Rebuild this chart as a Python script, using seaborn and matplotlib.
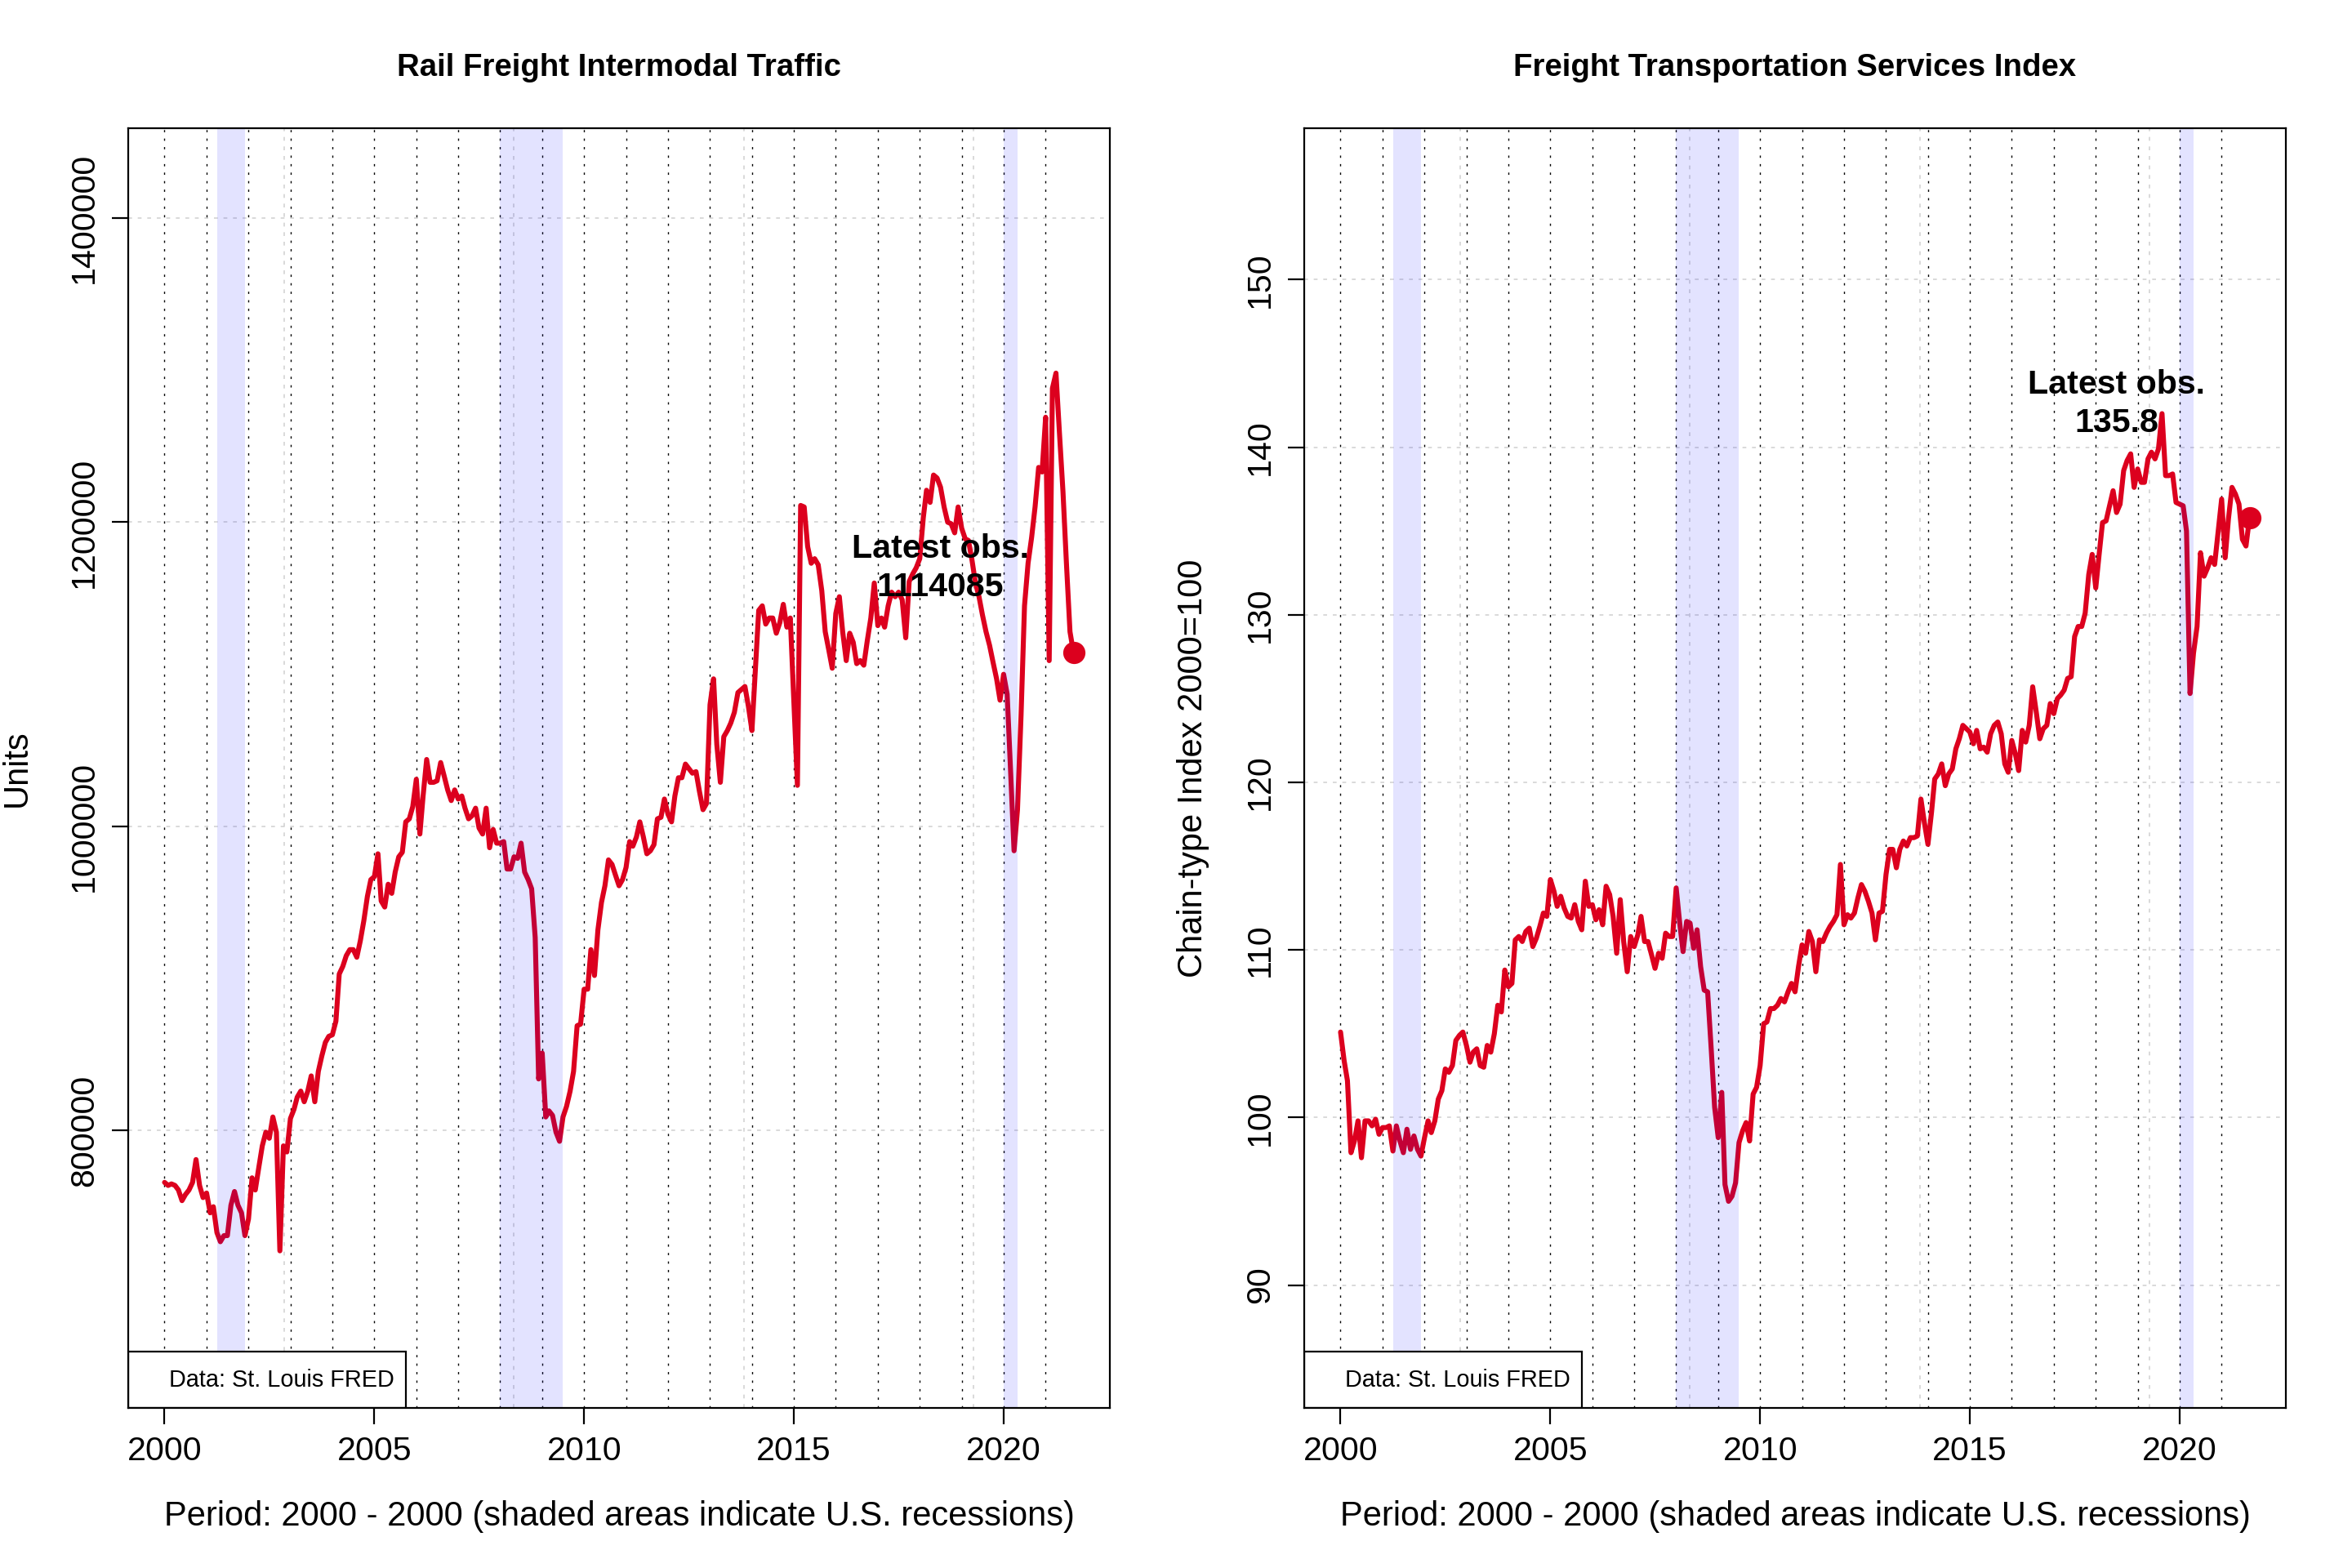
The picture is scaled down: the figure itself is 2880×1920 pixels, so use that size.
import numpy as np
import pandas as pd
import matplotlib
matplotlib.use('Agg')
import matplotlib.pyplot as plt
import matplotlib.dates as mdates
from matplotlib.patches import Rectangle
import seaborn as sns

# monthly observations Jan 2000 - Sep 2021
months = pd.date_range('2000-01-01', '2021-09-01', freq='MS')

# Rail Freight Intermodal Traffic, thousands of units (one row per year)
rail_k = [
    766, 764, 765, 764, 761, 754, 758, 761, 766, 781, 764, 756,
    759, 746, 750, 733, 727, 731, 731, 751, 760, 751, 746, 731,
    742, 769, 761, 776, 790, 799, 795, 809, 799, 721, 790, 786,
    808, 814, 822, 826, 819, 826, 836, 819, 839, 849, 858, 862,
    863, 872, 903, 908, 915, 919, 919, 914, 925, 938, 954, 965,
    967, 982, 951, 947, 962, 956, 970, 980, 983, 1003, 1005, 1013,
    1031, 995, 1020, 1044, 1029, 1029, 1030, 1042, 1033, 1024, 1017, 1024,
    1018, 1020, 1012, 1005, 1007, 1012, 999, 995, 1012, 986, 998, 989,
    989, 990, 972, 972, 980, 979, 989, 970, 965, 959, 927, 834,
    851, 809, 813, 810, 799, 793, 809, 816, 826, 839, 869, 870,
    893, 893, 919, 902, 932, 950, 961, 978, 975, 968, 961, 965,
    973, 990, 987, 993, 1003, 993, 982, 984, 988, 1005, 1006, 1018,
    1008, 1003, 1020, 1032, 1032, 1041, 1038, 1035, 1036, 1023, 1011, 1015,
    1080, 1097, 1054, 1029, 1059, 1063, 1068, 1075, 1088, 1090, 1092, 1079,
    1063, 1104, 1142, 1145, 1133, 1137, 1137, 1127, 1134, 1146, 1131, 1137,
    1082, 1027, 1211, 1210, 1184, 1173, 1176, 1172, 1155, 1128, 1116, 1104,
    1140, 1151, 1128, 1109, 1127, 1121, 1107, 1109, 1106, 1122, 1137, 1160,
    1132, 1137, 1131, 1145, 1154, 1151, 1154, 1149, 1124, 1161, 1166, 1170,
    1176, 1203, 1221, 1213, 1231, 1229, 1223, 1210, 1200, 1199, 1193, 1210,
    1196, 1189, 1188, 1175, 1160, 1151, 1139, 1128, 1119, 1108, 1097, 1083,
    1100, 1087, 1038, 984, 1011, 1073, 1145, 1173, 1190, 1210, 1236, 1233,
    1269, 1109, 1288, 1298, 1259, 1220, 1173, 1128, 1114.085,
]

# Freight Transportation Services Index, chain-type 2000=100
fsi_index = [
    105.1, 103.4, 102.2, 97.9, 98.6, 99.8, 97.6, 99.8, 99.8, 99.5, 99.9, 99.0,
    99.4, 99.4, 99.5, 98.0, 99.5, 98.6, 97.9, 99.3, 98.1, 98.9, 98.1, 97.7,
    98.8, 99.8, 99.1, 99.8, 101.1, 101.6, 102.9, 102.7, 103.1, 104.6, 104.9, 105.1,
    104.3, 103.3, 103.9, 104.1, 103.1, 103.0, 104.3, 103.9, 105.0, 106.7, 106.3, 108.8,
    107.8, 108.0, 110.6, 110.8, 110.5, 111.1, 111.3, 110.2, 110.7, 111.4, 112.2, 112.0,
    114.2, 113.5, 112.6, 113.2, 112.5, 112.0, 111.9, 112.7, 111.7, 111.2, 114.1, 112.6,
    112.7, 111.8, 112.4, 111.5, 113.8, 113.3, 112.0, 109.8, 113.0, 110.5, 108.7, 110.8,
    110.2, 110.9, 112.0, 110.5, 110.5, 109.7, 108.9, 109.8, 109.5, 111.0, 110.8, 110.8,
    113.7, 111.6, 109.9, 111.7, 111.6, 110.1, 111.2, 109.0, 107.6, 107.5, 104.1, 100.6,
    98.8, 101.5, 96.0, 95.0, 95.3, 96.1, 98.5, 99.2, 99.7, 98.6, 101.4, 101.8,
    103.1, 105.6, 105.7, 106.5, 106.5, 106.7, 107.1, 106.9, 107.5, 108.0, 107.5, 109.0,
    110.3, 109.8, 111.1, 110.5, 108.7, 110.6, 110.5, 111.0, 111.4, 111.7, 112.1, 115.1,
    111.5, 112.1, 111.9, 112.2, 113.1, 113.9, 113.5, 112.9, 112.2, 110.6, 112.2, 112.3,
    114.5, 116.0, 116.0, 114.9, 116.0, 116.5, 116.2, 116.7, 116.7, 116.8, 119.0, 117.6,
    116.3, 118.2, 120.2, 120.5, 121.1, 119.8, 120.5, 120.8, 122.0, 122.6, 123.4, 123.2,
    123.0, 122.3, 123.1, 122.0, 122.1, 121.8, 122.9, 123.4, 123.6, 122.9, 121.1, 120.6,
    122.5, 121.7, 120.7, 123.1, 122.4, 123.4, 125.7, 124.2, 122.6, 123.2, 123.4, 124.7,
    124.1, 125.0, 125.2, 125.5, 126.2, 126.3, 128.7, 129.3, 129.3, 130.1, 132.4, 133.6,
    131.6, 133.7, 135.5, 135.6, 136.5, 137.4, 136.1, 136.6, 138.6, 139.2, 139.6, 137.6,
    138.7, 137.9, 137.9, 139.3, 139.7, 139.3, 139.9, 142.0, 138.3, 138.3, 138.4, 136.7,
    136.6, 136.5, 135.0, 125.3, 127.7, 129.3, 133.7, 132.3, 132.8, 133.4, 133.0, 134.9,
    136.9, 133.4, 135.7, 137.6, 137.2, 136.6, 134.5, 134.1, 135.8,
]

# US recessions (shaded)
rec_start = ['2001-04-01', '2008-01-01', '2020-01-01']
rec_end = ['2001-12-01', '2009-07-01', '2020-05-01']

xtick_years = [2000, 2005, 2010, 2015, 2020]
rail_yticks = [800000, 1000000, 1200000, 1400000]
fsi_yticks = [90, 100, 110, 120, 130, 140, 150]

df = pd.DataFrame({
    'date': months,
    'rail': np.array(rail_k) * 1000,
    'fsi': fsi_index,
})

sns.set_style('white')
plt.rcParams['font.family'] = ['Liberation Sans', 'DejaVu Sans']
plt.rcParams['text.color'] = 'black'
plt.rcParams['axes.labelcolor'] = 'black'
plt.rcParams['xtick.color'] = 'black'
plt.rcParams['ytick.color'] = 'black'

RED = '#dc001e'

fig = plt.figure(figsize=(14.4, 9.6), dpi=200)
ax1 = fig.add_axes([0.0545, 0.1021, 0.4174, 0.8161])
ax2 = fig.add_axes([0.5545, 0.1021, 0.4174, 0.8161])

paineis = [
    (ax1, 'rail', 'Rail Freight Intermodal Traffic', 'Units', rail_yticks,
     lambda v: f'{int(round(v))}'),
    (ax2, 'fsi', 'Freight Transportation Services Index', 'Chain-type Index 2000=100',
     fsi_yticks, lambda v: f'{v:.1f}'),
]

for ax, col, titulo, ylab, yticks, fmt in paineis:
    serie = df[col]

    # limites no estilo R: min*0.9 / max*1.1 com 4% de folga
    lo, hi = serie.min() * 0.9, serie.max() * 1.1
    ax.set_ylim(lo - 0.04 * (hi - lo), hi + 0.04 * (hi - lo))
    d0, d1 = df['date'].iloc[0], df['date'].iloc[-1]
    span = d1 - d0
    ax.set_xlim(d0 - 0.04 * span, d1 + 0.04 * span)

    # grade cinza (eixo de datas em dias) e linhas pontilhadas de cada ano
    for d in [12000, 14000, 16000, 18000]:
        ax.axvline(mdates.num2date(d), color='lightgray', lw=0.6,
                   linestyle=(0, (2.8, 4.2)), zorder=1)
    for yv in yticks:
        ax.axhline(yv, color='lightgray', lw=0.6, linestyle=(0, (2.8, 4.2)), zorder=1)
    for ano in range(2000, 2022):
        ax.axvline(pd.Timestamp(f'{ano}-01-01'), color='black', lw=0.5,
                   linestyle=(0, (2, 5.5)), zorder=1)

    sns.lineplot(data=df, x='date', y=col, ax=ax, color=RED, linewidth=2.2, zorder=3)

    for s, e in zip(rec_start, rec_end):
        ax.axvspan(pd.Timestamp(s), pd.Timestamp(e), color='blue', alpha=0.11,
                   lw=0, zorder=4)

    ultimo = serie.iloc[-1]
    ax.plot([d1], [ultimo], 'o', color=RED, markersize=8.8, zorder=5)
    ax.text(d1 - pd.Timedelta(days=1160), ultimo * 1.05,
            'Latest obs.\n' + fmt(ultimo), ha='center', va='center',
            fontsize=14.8, fontweight='bold', linespacing=1.32, zorder=6)

    # caixa da fonte dos dados
    ax.add_patch(Rectangle((0, 0), 0.283, 0.044, transform=ax.transAxes,
                           facecolor='white', edgecolor='black', lw=0.8, zorder=7))
    ax.text(0.2712, 0.0217, 'Data: St. Louis FRED', transform=ax.transAxes,
            ha='right', va='center', fontsize=10.4, zorder=8)

    ax.set_xticks([pd.Timestamp(f'{a}-01-01') for a in xtick_years])
    ax.set_xticklabels([str(a) for a in xtick_years])
    ax.set_yticks(yticks)
    ax.set_yticklabels([str(v) for v in yticks], rotation=90, va='center')
    ax.tick_params(axis='both', which='major', direction='out', length=7.2,
                   width=0.8, color='black', labelsize=14.8, labelcolor='black',
                   bottom=True, left=True)
    ax.tick_params(axis='x', pad=5.0)
    ax.tick_params(axis='y', pad=5.4)

    ax.set_title(titulo, fontsize=13.8, fontweight='bold', pad=23, color='black')
    ax.set_xlabel('Period: 2000 - 2000 (shaded areas indicate U.S. recessions)',
                  fontsize=15, va='center')
    ax.xaxis.set_label_coords(0.5, -0.0849)
    ax.set_ylabel(ylab, fontsize=15, va='center')
    ax.yaxis.set_label_coords(-0.113, 0.5)

    for sp in ax.spines.values():
        sp.set_color('black')
        sp.set_linewidth(0.8)
        sp.set_zorder(9)

fig.savefig('out.png', dpi=200, facecolor='white')
